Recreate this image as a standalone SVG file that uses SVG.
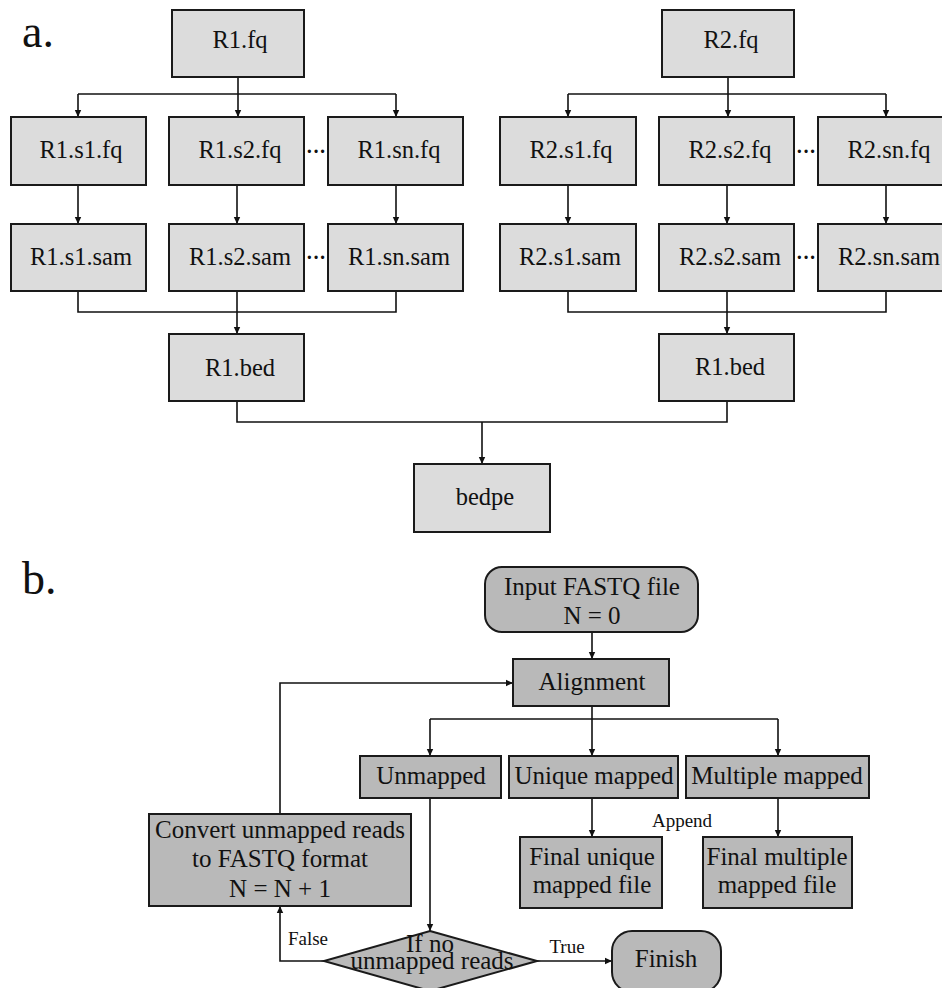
<svg xmlns="http://www.w3.org/2000/svg" width="942" height="988" viewBox="0 0 942 988">
<defs>
<marker id="ar" markerUnits="userSpaceOnUse" markerWidth="8" markerHeight="8" refX="7" refY="4" orient="auto">
<path d="M0,0.8 L7,4 L0,7.2 z" fill="#111"/>
</marker>
<style>
text{font-family:"Liberation Serif","Times New Roman",serif;fill:#111;text-anchor:middle}
.t{font-size:24.5px}
.u{font-size:25px}
.s{font-size:19px}
.lbl{font-size:46px;text-anchor:start}
.na{fill:#dcdcdc;stroke:#1a1a1a;stroke-width:2}
.nb{fill:#b9b9b9;stroke:#1a1a1a;stroke-width:2}
.c path{fill:none;stroke:#111;stroke-width:1.6}
.c path.a{marker-end:url(#ar)}
.dots{font-size:20px;font-weight:bold}
</style>
</defs>
<rect width="942" height="988" fill="#fff"/>
<text class="lbl" x="22" y="47">a.</text>
<text class="lbl" x="22" y="594">b.</text>

<g class="c" id="connectors">
<path class="a" d="M238,77 V117"/>
<path d="M78,94 H396"/>
<path class="a" d="M78,94 V117"/>
<path class="a" d="M396,94 V117"/>
<path class="a" d="M78,185 V224"/>
<path class="a" d="M237,185 V224"/>
<path class="a" d="M396,185 V224"/>
<path d="M78,291 V312 H396 V291"/>
<path class="a" d="M237,291 V334"/>
<path class="a" d="M728,77 V117"/>
<path d="M568,94 H886"/>
<path class="a" d="M568,94 V117"/>
<path class="a" d="M886,94 V117"/>
<path class="a" d="M568,185 V224"/>
<path class="a" d="M727,185 V224"/>
<path class="a" d="M886,185 V224"/>
<path d="M568,291 V312 H886 V291"/>
<path class="a" d="M727,291 V334"/>
<path d="M237,401 V422 H727 V401"/>
<path class="a" d="M482,422 V464"/>

<path class="a" d="M592,632 V659"/>
<path class="a" d="M280,814 V683 H513"/>
<path class="a" d="M592,706 V756"/>
<path d="M430,719 H778"/>
<path class="a" d="M430,719 V756"/>
<path class="a" d="M778,719 V756"/>
<path class="a" d="M592,798 V837"/>
<path class="a" d="M778,798 V837"/>
<path class="a" d="M430,798 V931"/>
<path class="a" d="M324,961 H280 V906"/>
<path class="a" d="M537,961 H612"/>
</g>

<g id="r1fq"><rect class="na" x="172" y="10" width="132" height="67"/><text class="t" x="240" y="48">R1.fq</text></g>
<g id="r1s1fq"><rect class="na" x="11" y="117" width="135" height="68"/><text class="t" x="81" y="158">R1.s1.fq</text></g>
<g id="r1s2fq"><rect class="na" x="169" y="117" width="135" height="68"/><text class="t" x="240" y="158">R1.s2.fq</text></g>
<g id="r1snfq"><rect class="na" x="328" y="117" width="135" height="68"/><text class="t" x="399" y="158">R1.sn.fq</text></g>
<g id="r1s1sam"><rect class="na" x="11" y="224" width="135" height="67"/><text class="t" x="81" y="265">R1.s1.sam</text></g>
<g id="r1s2sam"><rect class="na" x="169" y="224" width="135" height="67"/><text class="t" x="240" y="265">R1.s2.sam</text></g>
<g id="r1snsam"><rect class="na" x="328" y="224" width="135" height="67"/><text class="t" x="399" y="265">R1.sn.sam</text></g>
<g id="r1dots"><text class="dots" x="316" y="158">···</text><text class="dots" x="316" y="264">···</text></g>
<g id="r1bed"><rect class="na" x="169" y="334" width="135" height="67"/><text class="t" x="240" y="376">R1.bed</text></g>

<g id="r2fq"><rect class="na" x="662" y="10" width="132" height="67"/><text class="t" x="731" y="48">R2.fq</text></g>
<g id="r2s1fq"><rect class="na" x="500" y="117" width="136" height="68"/><text class="t" x="571" y="158">R2.s1.fq</text></g>
<g id="r2s2fq"><rect class="na" x="659" y="117" width="135" height="68"/><text class="t" x="730" y="158">R2.s2.fq</text></g>
<g id="r2snfq"><rect class="na" x="818" y="117" width="136" height="68"/><text class="t" x="889" y="158">R2.sn.fq</text></g>
<g id="r2s1sam"><rect class="na" x="500" y="224" width="136" height="67"/><text class="t" x="570" y="265">R2.s1.sam</text></g>
<g id="r2s2sam"><rect class="na" x="659" y="224" width="135" height="67"/><text class="t" x="730" y="265">R2.s2.sam</text></g>
<g id="r2snsam"><rect class="na" x="818" y="224" width="136" height="67"/><text class="t" x="889" y="265">R2.sn.sam</text></g>
<g id="r2dots"><text class="dots" x="806" y="158">···</text><text class="dots" x="806" y="264">···</text></g>
<g id="r2bed"><rect class="na" x="659" y="334" width="135" height="67"/><text class="t" x="730" y="375">R1.bed</text></g>

<g id="bedpe"><rect class="na" x="414" y="464" width="136" height="68"/><text class="t" x="485" y="505">bedpe</text></g>

<g id="input"><rect class="nb" x="485" y="567" width="213" height="65" rx="17"/><text class="u" x="592" y="595">Input FASTQ file</text><text class="u" x="592" y="624">N = 0</text></g>
<g id="alignment"><rect class="nb" x="513" y="659" width="156" height="47"/><text class="u" x="592" y="690">Alignment</text></g>
<g id="unmapped"><rect class="nb" x="360" y="756" width="141" height="42"/><text class="u" x="431" y="784">Unmapped</text></g>
<g id="unique"><rect class="nb" x="509" y="756" width="169" height="42"/><text class="u" x="594" y="784">Unique mapped</text></g>
<g id="multiple"><rect class="nb" x="686" y="756" width="183" height="42"/><text class="u" x="777" y="784">Multiple mapped</text></g>
<g id="finalunique"><rect class="nb" x="520" y="837" width="142" height="71"/><text class="u" x="592" y="865">Final unique</text><text class="u" x="592" y="893">mapped file</text></g>
<g id="finalmultiple"><rect class="nb" x="703" y="837" width="149" height="71"/><text class="u" x="777" y="865">Final multiple</text><text class="u" x="777" y="893">mapped file</text></g>
<g id="append"><text class="s" x="682" y="827">Append</text></g>
<g id="convert"><rect class="nb" x="149" y="814" width="262" height="92"/><text class="u" x="280" y="838">Convert unmapped reads</text><text class="u" x="280" y="867">to FASTQ format</text><text class="u" x="280" y="897">N = N + 1</text></g>
<g id="decision"><polygon class="nb" points="430,931 537,961 430,991 324,961"/><text class="u" x="430" y="952">If no</text><text class="u" x="432" y="969">unmapped reads</text></g>
<g id="finish"><rect class="nb" x="612" y="931" width="109" height="61" rx="20"/><text class="u" x="666" y="967">Finish</text></g>
<g id="labels"><text class="s" x="308" y="945">False</text><text class="s" x="567" y="953">True</text></g>
</svg>
